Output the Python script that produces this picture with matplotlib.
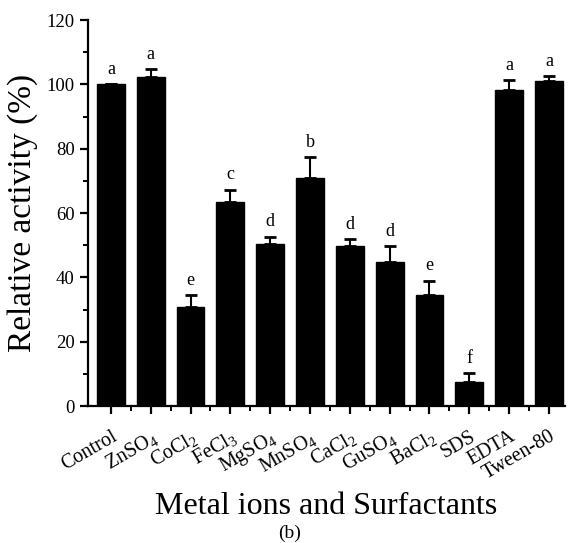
import numpy as np
import matplotlib
matplotlib.use("Agg")
import matplotlib.pyplot as plt
import matplotlib.transforms as mtransforms
from matplotlib.ticker import MultipleLocator, FixedLocator

plt.rcParams['font.family'] = ['Liberation Serif', 'DejaVu Serif']
plt.rcParams['mathtext.fontset'] = 'custom'
plt.rcParams['mathtext.rm'] = 'Liberation Serif'
plt.rcParams['mathtext.default'] = 'regular'

labels = ['Control', 'ZnSO$_4$', 'CoCl$_2$', 'FeCl$_3$', 'MgSO$_4$', 'MnSO$_4$',
          'CaCl$_2$', 'GuSO$_4$', 'BaCl$_2$', 'SDS', 'EDTA', 'Tween-80']
activity = [100.0, 102.2, 30.9, 63.4, 50.3, 70.9, 49.8, 44.9, 34.6, 7.6, 98.4, 101.1]
errors = [0.0, 2.6, 3.6, 3.9, 2.4, 6.5, 2.1, 4.9, 4.4, 2.6, 2.9, 1.5]
letters = ['a', 'a', 'e', 'c', 'd', 'b', 'd', 'd', 'e', 'f', 'a', 'a']

fig = plt.figure(figsize=(5.7, 5.43), dpi=100)
ax = fig.add_axes([0.154, 0.252, 0.837, 0.711])

x = np.arange(len(labels))
ax.bar(x, activity, width=0.7, color='black', edgecolor='black',
       yerr=[np.zeros(len(errors)), errors], capsize=4.5,
       error_kw=dict(elinewidth=1.5, capthick=2, ecolor='black'))

for xi, v, e, t in zip(x, activity, errors, letters):
    ax.text(xi, v + e + 2, t, ha='center', va='bottom', fontsize=13)

ax.set_xlim(-0.58, 11.4)
ax.set_ylim(0, 120)
ax.yaxis.set_major_locator(MultipleLocator(20))
ax.yaxis.set_minor_locator(MultipleLocator(10))
ax.set_xticks(x)
ax.xaxis.set_minor_locator(FixedLocator(x[:-1] + 0.5))
ax.set_xticklabels(labels, rotation=30, ha='right', rotation_mode='anchor')

# shift the rotated category names a little to the right of their ticks
shift = mtransforms.ScaledTranslation(9 / 72, 0, fig.dpi_scale_trans)
for lab in ax.get_xticklabels():
    lab.set_transform(lab.get_transform() + shift)

for s in ['top', 'right']:
    ax.spines[s].set_visible(False)
for s in ['left', 'bottom']:
    ax.spines[s].set_linewidth(1.6)

ax.tick_params(axis='both', which='major', length=6, width=1.6, labelsize=13.5)
ax.tick_params(axis='x', which='major', labelsize=14.5, pad=9)
ax.tick_params(axis='both', which='minor', length=3.5, width=1.4)

ax.set_ylabel('Relative activity (%)', fontsize=24, labelpad=6)
ax.set_xlabel('Metal ions and Surfactants', fontsize=23, labelpad=6)
fig.text(0.508, 0.002, '(b)', ha='center', va='bottom', fontsize=14)

fig.savefig('out.png', dpi=100, facecolor='white')
